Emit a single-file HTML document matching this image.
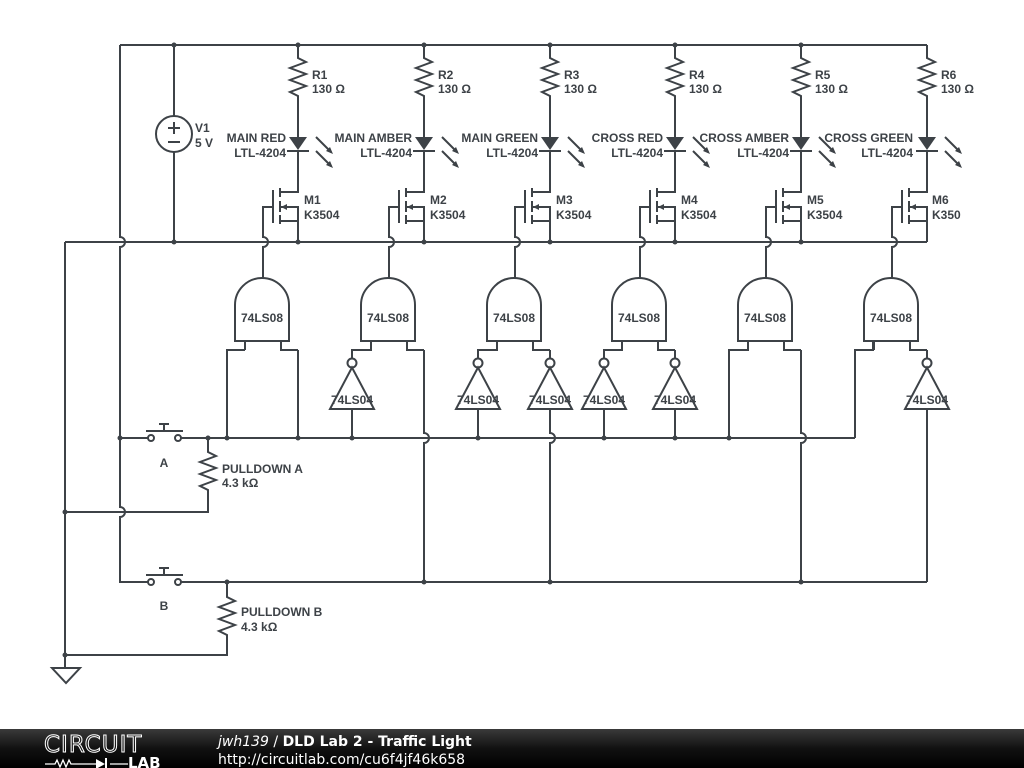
<!DOCTYPE html>
<html><head><meta charset="utf-8"><style>
body{margin:0;background:#fff;width:1024px;height:768px;overflow:hidden}
svg{display:block}
text{font-family:"Liberation Sans",sans-serif;font-weight:bold;font-size:12px;fill:#3d4247;stroke:none}
</style></head><body>
<svg width="1024" height="768" viewBox="0 0 1024 768" xmlns="http://www.w3.org/2000/svg">
<defs>
<g id="col">
 <path d="M0,45V58L8,62L-8,68L8,74L-8,80L8,86L-8,92L0,96V137" />
 <polygon points="-9,137 9,137 0,150" fill="#3d4247" stroke="none"/>
 <path d="M-11,151H11M0,151V192H-18M-18,188V197M-18,201V212M-18,215V224M-25,190V223M-25,207H-35V237A5,5 0 0 1 -35,247V278M-18,221H0V207H-18M0,221V242"/>
 <polygon points="-17,207 -11,204 -11,210" fill="#3d4247" stroke="none"/>
 <path d="M18,137L33,152M18,151L33,166"/>
 <polygon points="35,154 28,151 32,147" fill="#3d4247" stroke="none"/>
 <polygon points="35,168 28,165 32,161" fill="#3d4247" stroke="none"/>
 <path d="M-63,341V305A27,27 0 0 1 -9,305V341ZM-53,341V350M-17,341V350H0"/>
 <text x="-36" y="322" text-anchor="middle">74LS08</text>
</g>
<g id="inv">
 <circle cx="0" cy="363" r="4.5" fill="#fff"/>
 <polygon points="0,367.5 -22,409 22,409" fill="none"/>
 <text x="0" y="404" text-anchor="middle">74LS04</text>
</g>
</defs>
<g stroke="#3d4247" stroke-width="2" fill="none">
 <path d="M120,45H927M65,242H927"/>
 <use href="#col" x="298"/><use href="#col" x="424"/><use href="#col" x="550"/>
 <use href="#col" x="675"/><use href="#col" x="801"/><use href="#col" x="927"/>
 <path d="M120,45V237A5,5 0 0 1 120,247V507A5,5 0 0 1 120,517V582H148M120,438H148"/>
 <path d="M174,45V116M174,152V242"/>
 <circle cx="174" cy="134" r="18"/>
 <path d="M168,128H180M174,122V134M168,142H180"/>
 <path d="M65,242V668"/>
 <polygon points="52,668 80,668 66,683"/>
 <circle cx="151" cy="438" r="3" fill="#fff"/><circle cx="178" cy="438" r="3" fill="#fff"/>
 <path d="M146,431H183M164,424V431M159,424H169"/>
 <circle cx="151" cy="582" r="3" fill="#fff"/><circle cx="178" cy="582" r="3" fill="#fff"/>
 <path d="M146,575H183M164,568V575M159,568H169"/>
 <path d="M181,438H855M181,582H927"/>
 <path d="M208,438V452L216,456L200,462L216,468L200,474L216,480L200,486L208,490V512H65"/>
 <path d="M227,582V597L235,601L219,607L235,613L219,619L235,625L219,631L227,635V655H65"/>
 <path d="M245,350H227V438M298,350V438"/>
 <path d="M371,341V350H352V358.5M352,409V438M424,350V433A5,5 0 0 1 424,443V582"/>
 <use href="#inv" x="352"/>
 <path d="M497,341V350H478V358.5M478,409V438M550,350V358.5M550,409V433A5,5 0 0 1 550,443V582"/>
 <use href="#inv" x="478"/><use href="#inv" x="550"/>
 <path d="M622,341V350H604V358.5M604,409V438M675,350V358.5M675,409V438"/>
 <use href="#inv" x="604"/><use href="#inv" x="675"/>
 <path d="M748,341V350H729V438M801,350V433A5,5 0 0 1 801,443V582"/>
 <path d="M873,341V350H855V438M927,350V358.5M927,409V582"/>
 <use href="#inv" x="927"/>
</g>
<g fill="#3d4247">
 <circle cx="174" cy="45" r="2.5"/><circle cx="298" cy="45" r="2.5"/><circle cx="424" cy="45" r="2.5"/>
 <circle cx="550" cy="45" r="2.5"/><circle cx="675" cy="45" r="2.5"/><circle cx="801" cy="45" r="2.5"/>
 <circle cx="174" cy="242" r="2.5"/><circle cx="298" cy="242" r="2.5"/><circle cx="424" cy="242" r="2.5"/>
 <circle cx="550" cy="242" r="2.5"/><circle cx="675" cy="242" r="2.5"/><circle cx="801" cy="242" r="2.5"/>
 <circle cx="120" cy="438" r="2.5"/><circle cx="208" cy="438" r="2.5"/><circle cx="227" cy="438" r="2.5"/>
 <circle cx="298" cy="438" r="2.5"/><circle cx="352" cy="438" r="2.5"/><circle cx="478" cy="438" r="2.5"/>
 <circle cx="604" cy="438" r="2.5"/><circle cx="675" cy="438" r="2.5"/><circle cx="729" cy="438" r="2.5"/>
 <circle cx="227" cy="582" r="2.5"/><circle cx="424" cy="582" r="2.5"/><circle cx="550" cy="582" r="2.5"/>
 <circle cx="801" cy="582" r="2.5"/>
 <circle cx="65" cy="512" r="2.5"/><circle cx="65" cy="655" r="2.5"/>
</g>
<g>
 <text x="195" y="132">V1</text><text x="195" y="147">5 V</text>
 <text x="312" y="79">R1</text><text x="312" y="93">130 Ω</text>
 <text x="438" y="79">R2</text><text x="438" y="93">130 Ω</text>
 <text x="564" y="79">R3</text><text x="564" y="93">130 Ω</text>
 <text x="689" y="79">R4</text><text x="689" y="93">130 Ω</text>
 <text x="815" y="79">R5</text><text x="815" y="93">130 Ω</text>
 <text x="941" y="79">R6</text><text x="941" y="93">130 Ω</text>
 <g text-anchor="end">
 <text x="286" y="142">MAIN RED</text><text x="286" y="157">LTL-4204</text>
 <text x="412" y="142">MAIN AMBER</text><text x="412" y="157">LTL-4204</text>
 <text x="538" y="142">MAIN GREEN</text><text x="538" y="157">LTL-4204</text>
 <text x="663" y="142">CROSS RED</text><text x="663" y="157">LTL-4204</text>
 <text x="789" y="142">CROSS AMBER</text><text x="789" y="157">LTL-4204</text>
 <text x="913" y="142">CROSS GREEN</text><text x="913" y="157">LTL-4204</text>
 </g>
 <text x="304" y="204">M1</text><text x="304" y="219">K3504</text>
 <text x="430" y="204">M2</text><text x="430" y="219">K3504</text>
 <text x="556" y="204">M3</text><text x="556" y="219">K3504</text>
 <text x="681" y="204">M4</text><text x="681" y="219">K3504</text>
 <text x="807" y="204">M5</text><text x="807" y="219">K3504</text>
 <text x="932" y="204">M6</text><text x="932" y="219">K350</text>
 <text x="164" y="467" text-anchor="middle">A</text>
 <text x="164" y="610" text-anchor="middle">B</text>
 <text x="222" y="473">PULLDOWN A</text><text x="222" y="487">4.3 kΩ</text>
 <text x="241" y="616">PULLDOWN B</text><text x="241" y="631">4.3 kΩ</text>
</g>
<defs><linearGradient id="fg" x1="0" y1="0" x2="0" y2="1"><stop offset="0" stop-color="#3a3a3a"/><stop offset="0.5" stop-color="#111"/><stop offset="1" stop-color="#000"/></linearGradient></defs>
<rect x="0" y="729" width="1024" height="39" fill="url(#fg)"/>
<text x="44" y="752" style="font-family:'DejaVu Sans',sans-serif;font-weight:normal;font-size:23px;fill:none;stroke:#fff;stroke-width:1;letter-spacing:1px">CIRCUIT</text>
<path d="M45,764H55L57,760L60,767L63,760L66,767L69,760L71,764H96M110,764H128" stroke="#fff" stroke-width="1.3" fill="none"/>
<polygon points="96,759 96,769 105,764" fill="#fff"/><path d="M106,758V770" stroke="#fff" stroke-width="2"/>
<text x="128" y="768" style="font-family:'DejaVu Sans',sans-serif;font-weight:bold;font-size:15px;fill:#fff">LAB</text>
<text x="218" y="746" style="font-family:'DejaVu Sans',sans-serif;font-size:14px;fill:#fff;font-weight:normal"><tspan font-style="italic">jwh139</tspan> / <tspan font-weight="bold">DLD Lab 2 - Traffic Light</tspan></text>
<text x="218" y="764" style="font-family:'DejaVu Sans',sans-serif;font-size:14px;fill:#fff;font-weight:normal">http://circuitlab.com/cu6f4jf46k658</text>
</svg>
</body></html>
